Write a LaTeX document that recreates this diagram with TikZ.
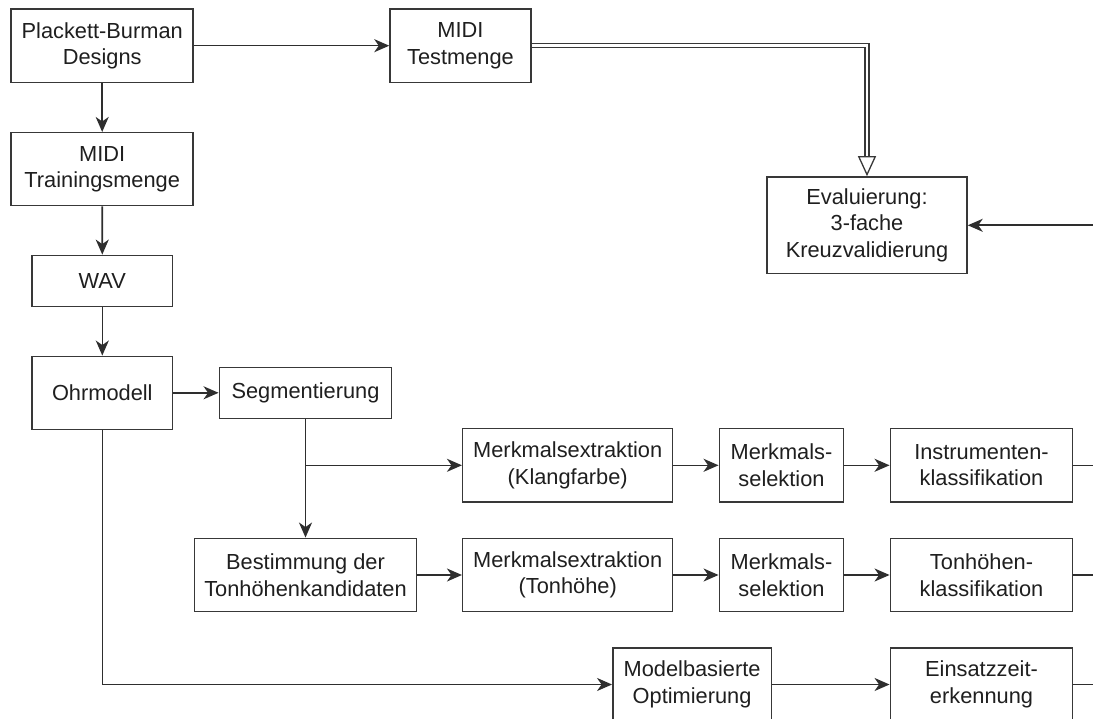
\documentclass[tikz,border=0pt]{standalone}
\usepackage{fontspec}
\setmainfont{Liberation Sans}
\usetikzlibrary{arrows.meta,calc}
\begin{document}
\begin{tikzpicture}[x=1pt,y=-1pt,
  blk/.style={draw=black!78, line width=1.5pt, fill=white, align=center,
    inner sep=0pt, text=black!88, font=\fontsize{21.8}{26.6}\selectfont},
  flow/.style={draw=black!82, line width=1.6pt,
    -{Stealth[length=15pt,width=13pt,inset=4.5pt]}},
  plain/.style={draw=black!82, line width=1.6pt},
  dbl/.style={double, double distance=2.6pt, line width=1.3pt, draw=black!78},
  hollow/.style={draw=black!78, line width=1.3pt,
    -{Triangle[open,length=20pt,width=18pt]}},
]
\useasboundingbox (0,0) rectangle (1093,719);
\clip (0,0) rectangle (1093,719);

% left column
\node[blk, minimum width=182pt, minimum height=73.3pt] (pb) at (102.2,45.7) {Plackett-Burman\\Designs};
\node[blk, minimum width=141pt, minimum height=73.3pt] (test) at (460.5,45.7) {MIDI\\Testmenge};
\node[blk, minimum width=182pt, minimum height=73pt] (train) at (102.2,169.2) {MIDI\\Trainingsmenge};
\node[blk, minimum width=140.7pt, minimum height=51.3pt] (wav) at (102.3,281) {WAV};
\node[blk, minimum width=140.7pt, minimum height=73pt] (ohr) at (102.3,392.8) {Ohrmodell};
\node[blk, minimum width=172.4pt, minimum height=51pt] (seg) at (305.5,392.8) {Segmentierung};
\node[blk, minimum width=222.4pt, minimum height=73.4pt] (best) at (305.5,575) {Bestimmung der\\Tonhöhenkandidaten};

% evaluation
\node[blk, minimum width=200pt, minimum height=96.7pt] (eval) at (867,225.3) {Evaluierung:\\3-fache\\Kreuzvalidierung};

% timbre row
\node[blk, minimum width=210pt, minimum height=73.3pt] (mek) at (567.7,465.3) {Merkmalsextraktion\\(Klangfarbe)};
\node[blk, minimum width=124.4pt, minimum height=73.3pt] (ms1) at (781.5,465.3) {Merkmals-\\selektion};
\node[blk, minimum width=182.4pt, minimum height=73.3pt] (ik) at (981.5,465.3) {Instrumenten-\\klassifikation};

% pitch row
\node[blk, minimum width=210pt, minimum height=73.3pt] (met) at (567.7,575) {Merkmalsextraktion\\(Tonhöhe)};
\node[blk, minimum width=124.4pt, minimum height=73.3pt] (ms2) at (781.5,575) {Merkmals-\\selektion};
\node[blk, minimum width=182.4pt, minimum height=73.3pt] (tk) at (981.5,575) {Tonhöhen-\\klassifikation};

% onset row
\node[blk, minimum width=158.6pt, minimum height=73pt] (mo) at (692.1,684.5) {Modelbasierte\\Optimierung};
\node[blk, minimum width=182.4pt, minimum height=73pt] (ez) at (981.5,684.5) {Einsatzzeit-\\erkennung};

% loose ends at the right border
\coordinate (r1) at (1093,465.3);
\coordinate (r2) at (1093,575);
\coordinate (r3) at (1093,684.5);
\coordinate (rin) at (1093,225.3);

% connectors
\draw[flow] (pb) -- (test);
\draw[flow] (pb) -- (train);
\draw[flow] (train) -- (wav);
\draw[flow] (wav) -- (ohr);
\draw[flow] (ohr.east |- seg.west) -- (seg.west);
\draw[flow] (seg) -- (best);
\draw[flow] (seg.south |- mek.west) -- (mek.west);
\draw[flow] (best) -- (met);
\draw[flow] (mek) -- (ms1);
\draw[flow] (ms1) -- (ik);
\draw[flow] (met) -- (ms2);
\draw[flow] (ms2) -- (tk);
\draw[flow] (ohr.south) |- (mo.west);
\draw[flow] (mo) -- (ez);
\draw[plain] (ik.east) -- (r1);
\draw[plain] (tk.east) -- (r2);
\draw[plain] (ez.east) -- (r3);
\draw[flow] (rin) -- (eval.east);

% double connector from the test set to the evaluation
\coordinate (dtip) at ($(eval.north)+(0,-20)$);
\draw[dbl] (test.east) -| (dtip);
\draw[hollow] (dtip) -- (eval.north);
\end{tikzpicture}
\end{document}
